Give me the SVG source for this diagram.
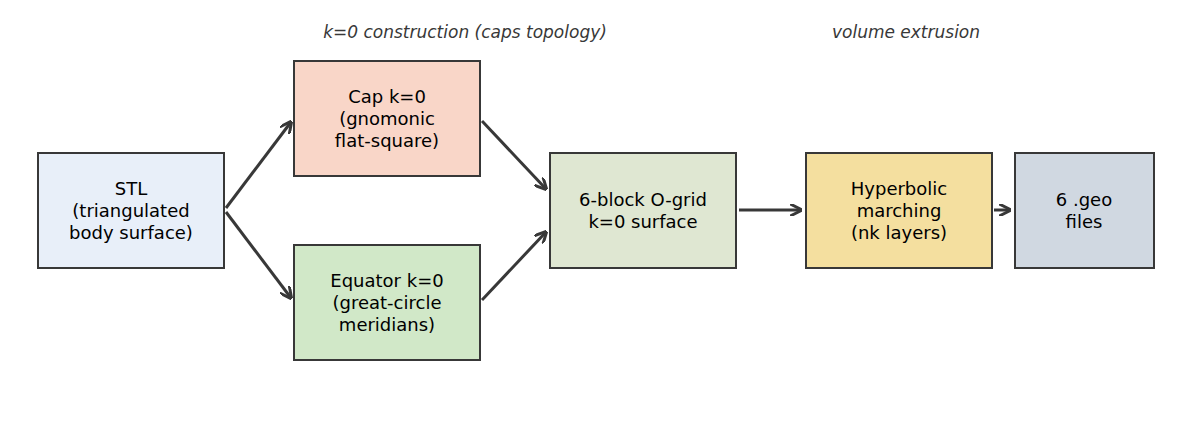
<svg xmlns="http://www.w3.org/2000/svg" width="1192" height="422" viewBox="0 0 1192 422">
<defs>
<style>
.n{stroke:#383838;stroke-width:2}
.t{font-family:"DejaVu Sans",sans-serif;font-size:18px;fill:#000;text-anchor:middle}
.h{font-family:"DejaVu Sans",sans-serif;font-size:17px;font-style:italic;fill:#383838;text-anchor:middle}
.c{stroke:#383838;stroke-width:3;fill:none;marker-end:url(#a)}
</style>
<marker id="a" viewBox="0 0 10 10" refX="9" refY="5" markerWidth="4" markerHeight="4" orient="auto"><path d="M0,0 L10,5 L0,10" fill="none" stroke="#383838" stroke-width="2.5"/></marker>
</defs>
<rect width="1192" height="422" fill="#fff"/>
<text class="h" x="465" y="38">k=0 construction (caps topology)</text>
<text class="h" x="906" y="38">volume extrusion</text>
<g id="connectors">
<path class="c" d="M226,208 L291,122"/>
<path class="c" d="M226,212 L291,298"/>
<path class="c" d="M482,121 L546,189"/>
<path class="c" d="M482,300 L546,232"/>
<path class="c" d="M739,210 L801,210"/>
<path class="c" d="M994,210 L1010,210"/>
</g>
<g id="stl"><rect class="n" x="38" y="153" width="186" height="115" fill="#e8eff9"/>
<text class="t" x="131" y="195">STL</text><text class="t" x="131" y="217">(triangulated</text><text class="t" x="131" y="239">body surface)</text></g>
<g id="cap"><rect class="n" x="294" y="61" width="186" height="115" fill="#f9d6c8"/>
<text class="t" x="387" y="103">Cap k=0</text><text class="t" x="387" y="125">(gnomonic</text><text class="t" x="387" y="147">flat-square)</text></g>
<g id="equator"><rect class="n" x="294" y="245" width="186" height="115" fill="#d1e8c8"/>
<text class="t" x="387" y="287">Equator k=0</text><text class="t" x="387" y="309">(great-circle</text><text class="t" x="387" y="331">meridians)</text></g>
<g id="ogrid"><rect class="n" x="550" y="153" width="186" height="115" fill="#dfe7d2"/>
<text class="t" x="643" y="206">6-block O-grid</text><text class="t" x="643" y="228">k=0 surface</text></g>
<g id="hyper"><rect class="n" x="806" y="153" width="186" height="115" fill="#f4df9f"/>
<text class="t" x="899" y="195">Hyperbolic</text><text class="t" x="899" y="217">marching</text><text class="t" x="899" y="239">(nk layers)</text></g>
<g id="geo"><rect class="n" x="1015" y="153" width="139" height="115" fill="#d0d8e1"/>
<text class="t" x="1084" y="206">6 .geo</text><text class="t" x="1084" y="228">files</text></g>
</svg>
